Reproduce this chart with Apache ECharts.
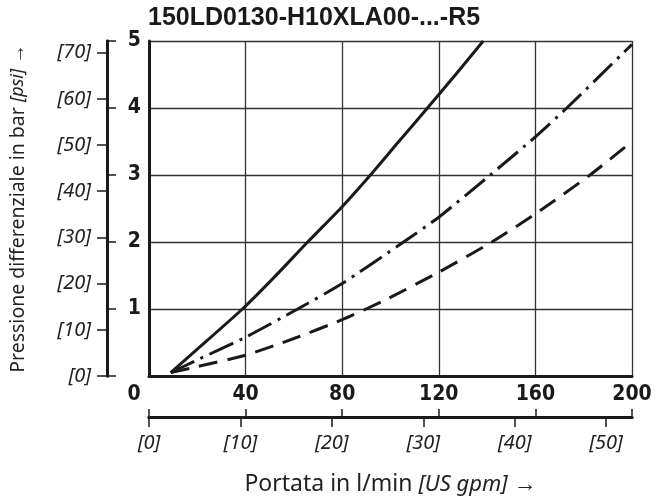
<!DOCTYPE html>
<html>
<head>
<meta charset="utf-8">
<script src="https://cdn.jsdelivr.net/npm/echarts@6/dist/echarts.min.js"></script>
<style>
  html, body { margin: 0; padding: 0; background: #fff; }
  #chart { width: 659px; height: 503px; }
</style>
</head>
<body>
<div id="chart"></div>
<script>
// flow in l/min, pressure drop in bar
var solidX = [9, 20, 38.7, 52, 65.7, 79.3, 91.7, 103, 115.3, 127, 138.4]
var solidY = [0.05, 0.40, 1.0, 1.48, 2.0, 2.5, 3.0, 3.48, 4.0, 4.5, 5.0]
var dashDotX = [9, 20, 40, 61.6, 80, 105.4, 120, 141.3, 160, 173, 200]
var dashDotY = [0.05, 0.24, 0.58, 1.0, 1.38, 2.0, 2.37, 3.0, 3.57, 4.0, 4.95]
var dashedX = [9, 20, 40, 60, 80, 97, 120, 142, 160, 182.6, 200]
var dashedY = [0.05, 0.14, 0.31, 0.56, 0.84, 1.12, 1.55, 2.0, 2.42, 3.0, 3.5]

var gpmTicks = [0, 10, 20, 30, 40, 50]
var psiTicks = [0, 10, 20, 30, 40, 50, 60, 70]
var LPM_PER_GPM = 3.78541
var PSI_PER_BAR = 14.5038

var ink = '#1a1a1a'
var narrow = '"Liberation Sans Narrow", "DejaVu Sans Condensed", sans-serif'
var sans = '"Noto Sans", "Open Sans", sans-serif'

function pairs(xs, ys) {
  var res = []
  xs.forEach(function(x, i) {
    res.push([x, ys[i]])
  })
  return res
}

var chart = echarts.init(document.getElementById('chart'), null, { renderer: 'canvas' })

var option = {
  animation: false,
  title: {
    text: '150LD0130-H10XLA00-...-R5',
    left: 143,
    top: 1,
    textStyle: { fontFamily: '"Liberation Sans", Arial, sans-serif', fontWeight: 'bold', fontSize: 25, color: ink }
  },
  grid: { left: 148, right: 27, top: 41, bottom: 127 },
  xAxis: [
    { // l/min, main
      type: 'value', position: 'bottom', min: 0, max: 200, interval: 40,
      axisLine: { show: true, onZero: false, lineStyle: { color: ink, width: 3 } },
      axisTick: { show: false },
      axisLabel: {
        margin: 8, fontFamily: narrow, fontWeight: 'bold', fontSize: 21, color: ink,
        formatter: function(v) { return v === 0 ? '{z|0}' : String(v) },
        rich: { z: { fontFamily: narrow, fontWeight: 'bold', fontSize: 21, color: ink, padding: [0, 30, 0, 0] } }
      },
      splitLine: { show: true, lineStyle: { color: '#333', width: 1.3 } }
    },
    { // l/min ticks on lower scale
      type: 'value', position: 'bottom', offset: 41, min: 0, max: 200, interval: 40,
      axisLine: { show: true, onZero: false, lineStyle: { color: ink, width: 3 } },
      axisTick: { show: true, inside: true, length: 8, lineStyle: { color: ink, width: 1.5 } },
      axisLabel: { show: false },
      splitLine: { show: false }
    },
    { // US gpm
      type: 'value', position: 'bottom', offset: 41, min: 0, max: 200 / LPM_PER_GPM,
      axisLine: { show: true, onZero: false, lineStyle: { color: ink, width: 3 } },
      axisTick: { show: true, length: 10, customValues: gpmTicks, lineStyle: { color: ink, width: 1.5 } },
      axisLabel: {
        customValues: gpmTicks, margin: 16, fontFamily: sans, fontStyle: 'italic', fontSize: 20, color: '#222',
        formatter: function(v) { return '[' + v + ']' }
      },
      splitLine: { show: false },
      name: '{r|Portata in l/min }{i|[US gpm]}{r| →}',
      nameLocation: 'middle',
      nameGap: 56,
      nameTextStyle: {
        rich: {
          r: { fontFamily: sans, fontSize: 23, color: '#222' },
          i: { fontFamily: sans, fontStyle: 'italic', fontSize: 22, color: '#222' }
        }
      }
    }
  ],
  yAxis: [
    { // bar, main
      type: 'value', position: 'left', min: 0, max: 5, interval: 1,
      axisLine: { show: true, onZero: false, lineStyle: { color: ink, width: 3 } },
      axisTick: { show: false },
      axisLabel: { margin: 8, showMinLabel: false, fontFamily: narrow, fontWeight: 'bold', fontSize: 21, color: ink },
      splitLine: { show: true, lineStyle: { color: '#333', width: 1.3 } }
    },
    { // bar ticks on psi scale
      type: 'value', position: 'left', offset: 42, min: 0, max: 5, interval: 1,
      axisLine: { show: true, onZero: false, lineStyle: { color: ink, width: 3 } },
      axisTick: { show: true, inside: true, length: 9, lineStyle: { color: ink, width: 1.5 } },
      axisLabel: { show: false },
      splitLine: { show: false }
    },
    { // psi
      type: 'value', position: 'left', offset: 42, min: 0, max: 5 * PSI_PER_BAR,
      axisLine: { show: true, onZero: false, lineStyle: { color: ink, width: 3 } },
      axisTick: { show: true, length: 10, customValues: psiTicks, lineStyle: { color: ink, width: 1.5 } },
      axisLabel: {
        customValues: psiTicks, margin: 16, fontFamily: sans, fontStyle: 'italic', fontSize: 20, color: '#222',
        formatter: function(v) { return '[' + v + ']' }
      },
      splitLine: { show: false },
      name: '{r|Pressione differenziale in bar }{i|[psi]}{r| →}',
      nameLocation: 'middle',
      nameRotate: 90,
      nameGap: 79,
      nameTextStyle: {
        rich: {
          r: { fontFamily: sans, fontSize: 19.5, color: '#222' },
          i: { fontFamily: sans, fontStyle: 'italic', fontSize: 18, color: '#222' }
        }
      }
    }
  ],
  series: [
    {
      type: 'line', xAxisIndex: 0, yAxisIndex: 0, showSymbol: false, smooth: 0.2,
      data: pairs(solidX, solidY),
      lineStyle: { color: ink, width: 3 }
    },
    {
      type: 'line', xAxisIndex: 0, yAxisIndex: 0, showSymbol: false, smooth: 0.2,
      data: pairs(dashDotX, dashDotY),
      lineStyle: { color: ink, width: 3, type: [26, 7, 3, 7] }
    },
    {
      type: 'line', xAxisIndex: 0, yAxisIndex: 0, showSymbol: false, smooth: 0.2,
      data: pairs(dashedX, dashedY),
      lineStyle: { color: ink, width: 3, type: [19, 10] }
    }
  ]
}

chart.setOption(option)
</script>
</body>
</html>
